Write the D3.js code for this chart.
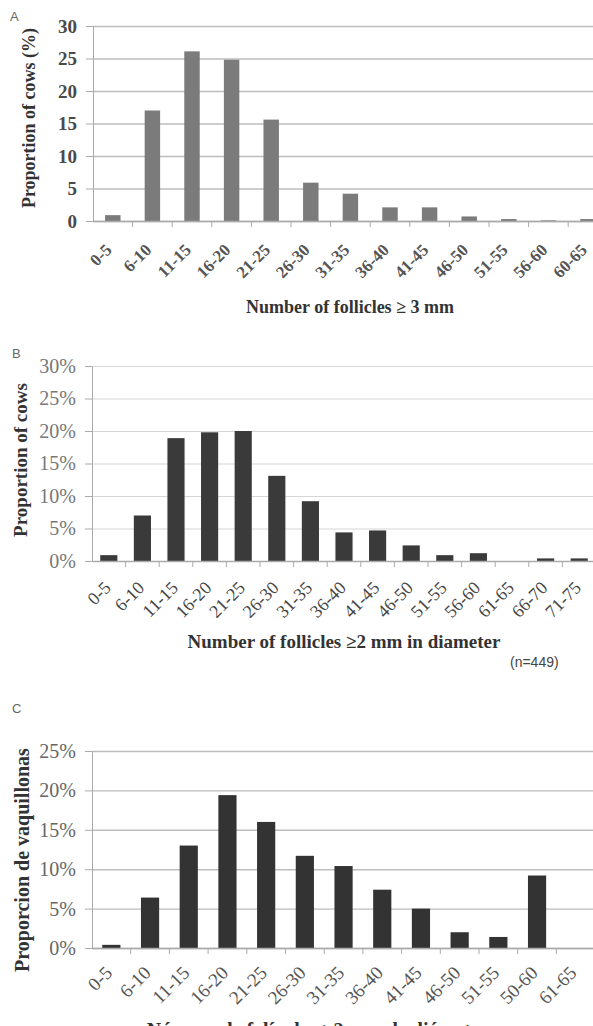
<!DOCTYPE html>
<html lang="en">
<head>
  <meta charset="UTF-8">
  <title>follicle distributions</title>
  <style>
    body { margin: 0; background: #fff; overflow: hidden; }
    .serif { font-family: "Liberation Serif", "Times New Roman", serif; }
    .sans { font-family: "Liberation Sans", "Noto Sans", sans-serif; }
  </style>
</head>
<body>
<script src="https://cdn.jsdelivr.net/npm/d3@7"></script>
<script>
  // panel A
  var catsA = ["0-5","6-10","11-15","16-20","21-25","26-30","31-35","36-40","41-45","46-50","51-55","56-60","60-65"];
  var valsA = [0.9, 17.0, 26.1, 24.8, 15.6, 5.9, 4.2, 2.1, 2.1, 0.7, 0.3, 0.1, 0.3];
  var ticksA = [0, 5, 10, 15, 20, 25, 30];

  // panel B
  var catsB = ["0-5","6-10","11-15","16-20","21-25","26-30","31-35","36-40","41-45","46-50","51-55","56-60","61-65","66-70","71-75"];
  var valsB = [0.9, 7.0, 18.9, 19.8, 20.0, 13.1, 9.2, 4.4, 4.7, 2.4, 0.9, 1.2, 0, 0.4, 0.4];
  var ticksB = [0, 5, 10, 15, 20, 25, 30];

  // panel C
  var catsC = ["0-5","6-10","11-15","16-20","21-25","26-30","31-35","36-40","41-45","46-50","51-55","50-60","61-65"];
  var valsC = [0.4, 6.4, 13.0, 19.4, 16.0, 11.7, 10.4, 7.4, 5.0, 2.0, 1.4, 9.2, 0];
  var ticksC = [0, 5, 10, 15, 20, 25];

  var W = 593, H = 1026;
  var svg = d3.select("body").append("svg")
    .attr("width", W)
    .attr("height", H);

  function panel(o) {
    var g = svg.append("g");
    var w = o.step * o.cats.length;

    var x = d3.scaleBand()
      .domain(o.cats)
      .range([o.left, o.left + w])
      .paddingInner(o.pad)
      .paddingOuter(o.pad / 2);
    var y = d3.scaleLinear()
      .domain([0, o.max])
      .range([o.zero, o.top]);

    // gridlines
    g.append("g")
      .attr("transform", "translate(" + o.left + ",0)")
      .call(d3.axisLeft(y).tickValues(o.ticks).tickSize(-w).tickFormat(""))
      .call(function(s){ s.select(".domain").remove(); })
      .selectAll("line")
      .attr("stroke", o.grid)
      .attr("stroke-width", o.gridW);

    // y axis
    var ya = g.append("g")
      .attr("transform", "translate(" + o.left + ",0)")
      .call(d3.axisLeft(y).tickValues(o.ticks).tickSize(7).tickPadding(9).tickSizeOuter(0)
        .tickFormat(function(d){ return d + o.suffix; }));
    ya.select(".domain").attr("stroke", o.axis);
    ya.selectAll("line").attr("stroke", o.axis);
    ya.selectAll("text")
      .attr("class", "serif")
      .attr("font-size", o.tickSize)
      .attr("font-weight", o.tickWeight)
      .attr("fill", o.tickColor);

    // bars
    g.selectAll(".bar")
      .data(o.vals)
      .enter().append("rect")
      .attr("x", function(d, i){ return x(o.cats[i]); })
      .attr("y", function(d){ return y(d); })
      .attr("width", x.bandwidth())
      .attr("height", function(d){ return o.zero - y(d); })
      .attr("fill", o.bar);

    // x axis line + boundary ticks
    var xa = g.append("g")
      .attr("transform", "translate(0," + o.zero + ")")
      .call(d3.axisBottom(x).tickSize(0).tickFormat(""));
    xa.select(".domain").attr("stroke", o.axis).attr("stroke-width", 1.3);
    xa.selectAll(".bound")
      .data(o.cats)
      .enter().append("line")
      .attr("x1", function(d){ return x(d) + x.bandwidth() / 2 + x.step() / 2; })
      .attr("x2", function(d){ return x(d) + x.bandwidth() / 2 + x.step() / 2; })
      .attr("y1", 0).attr("y2", 6)
      .attr("stroke", o.axis);

    // rotated category labels
    g.selectAll(".xl")
      .data(o.cats)
      .enter().append("text")
      .attr("class", "serif")
      .attr("text-anchor", "end")
      .attr("font-size", o.labSize)
      .attr("font-weight", o.labWeight)
      .attr("fill", o.labColor)
      .attr("transform", function(d){
        return "translate(" + (x(d) + x.bandwidth() / 2 + o.labDx) + "," + (o.zero + o.labDy) + ") rotate(-45)";
      })
      .text(function(d){ return d; });

    // y title
    g.append("text")
      .attr("class", "serif")
      .attr("text-anchor", "middle")
      .attr("font-weight", "bold")
      .attr("font-size", o.ytSize)
      .attr("fill", "#333")
      .attr("transform", "translate(" + o.ytX + "," + o.ytY + ") rotate(-90)")
      .text(o.ytitle);

    // x title
    g.append("text")
      .attr("class", "serif")
      .attr("text-anchor", "middle")
      .attr("font-weight", "bold")
      .attr("font-size", o.xtSize)
      .attr("fill", "#333")
      .attr("x", o.xtX)
      .attr("y", o.xtY)
      .text(o.xtitle);

    // panel letter
    g.append("text")
      .attr("class", "sans")
      .attr("font-size", 13)
      .attr("fill", "#666")
      .attr("x", o.letX)
      .attr("y", o.letY)
      .text(o.letter);
  }

  panel({
    cats: catsA, vals: valsA, ticks: ticksA, max: 30, suffix: "",
    left: 93, step: 39.6, pad: 0.61, zero: 221, top: 26,
    grid: "#bdbdbd", gridW: 1.6, axis: "#aaa", bar: "#7b7b7b",
    tickSize: 19, tickWeight: "bold", tickColor: "#4a4a4a",
    labSize: 17, labWeight: "bold", labColor: "#555", labDx: 0, labDy: 30,
    ytitle: "Proportion of cows (%)", ytSize: 18, ytX: 35, ytY: 118,
    xtitle: "Number of follicles \u2265 3 mm", xtSize: 18, xtX: 350, xtY: 313,
    letter: "A", letX: 10, letY: 21
  });

  panel({
    cats: catsB, vals: valsB, ticks: ticksB, max: 30, suffix: "%",
    left: 92, step: 33.6, pad: 0.49, zero: 561, top: 366,
    grid: "#d6d6d6", gridW: 1.2, axis: "#aaa", bar: "#3a3a3a",
    tickSize: 20, tickWeight: "normal", tickColor: "#777",
    labSize: 18, labWeight: "normal", labColor: "#444", labDx: 3, labDy: 28,
    ytitle: "Proportion of cows", ytSize: 19, ytX: 27, ytY: 460,
    xtitle: "Number of follicles \u22652 mm in diameter", xtSize: 19, xtX: 344, xtY: 648,
    letter: "B", letX: 12, letY: 358
  });

  panel({
    cats: catsC, vals: valsC, ticks: ticksC, max: 25, suffix: "%",
    left: 92, step: 38.7, pad: 0.53, zero: 948, top: 751,
    grid: "#bdbdbd", gridW: 1.4, axis: "#aaa", bar: "#333",
    tickSize: 20, tickWeight: "normal", tickColor: "#666",
    labSize: 19, labWeight: "normal", labColor: "#555", labDx: 2, labDy: 26,
    ytitle: "Proporcion de vaquillonas", ytSize: 20, ytX: 29, ytY: 860,
    xtitle: "N\u00famero de fol\u00edculos \u22652 mm de di\u00e1metro", xtSize: 20, xtX: 318, xtY: 1037,
    letter: "C", letX: 12, letY: 713
  });

  svg.append("text")
    .attr("class", "sans")
    .attr("font-size", 14)
    .attr("fill", "#444")
    .attr("x", 510)
    .attr("y", 667)
    .text("(n=449)");
</script>
</body>
</html>
